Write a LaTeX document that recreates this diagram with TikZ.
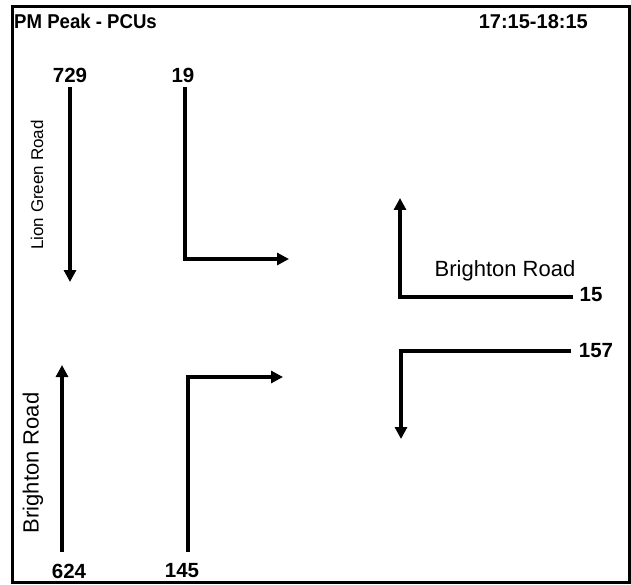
\documentclass[tikz,border=0pt]{standalone}
\usepackage{fontspec}
\setmainfont{Liberation Sans}
\usetikzlibrary{arrows.meta}
\begin{document}
\begin{tikzpicture}[x=1pt,y=-1pt,
  flow/.style={line width=4pt,-{Triangle[length=12pt,width=12pt]}},
  num/.style={font=\fontsize{20.5}{22}\selectfont\bfseries,inner sep=0pt},
  road/.style={font=\fontsize{22}{24}\selectfont,inner sep=0pt},
  smallroad/.style={font=\fontsize{17}{20}\selectfont,inner sep=0pt},
  title/.style={font=\fontsize{20}{22}\selectfont\bfseries,inner sep=0pt,anchor=base west}]
\useasboundingbox (0,0) rectangle (631,585);
\draw[line width=3pt] (12.5,7) rectangle (629,582.5);
\node[title] (t1) at (14,29) {\scalebox{0.93}[1]{PM Peak - PCUs}};
\node[title,anchor=base east] (t2) at (588,29) {17:15-18:15};
% top-left
\node[num] (n729) at (70,75) {729};
\coordinate (a1s) at (70,87);
\coordinate (a1e) at (70,282);
\draw[flow] (a1s) -- (a1e);
\node[smallroad,rotate=90] (lg) at (37,185) {Lion Green Road};
\node[num] (n19) at (183,75) {19};
\coordinate (a2s) at (185,87);
\coordinate (a2c) at (185,259);
\coordinate (a2e) at (289,259);
\draw[flow] (a2s) -- (a2c) -- (a2e);
% right
\node[road] (br1) at (505,271) {Brighton Road};
\node[num] (n15) at (591,295) {15};
\coordinate (a3s) at (573,297);
\coordinate (a3c) at (400,297);
\coordinate (a3e) at (400,198);
\draw[flow] (a3s) -- (a3c) -- (a3e);
\node[num] (n157) at (596,351) {157};
\coordinate (a4s) at (571,351);
\coordinate (a4c) at (401,351);
\coordinate (a4e) at (401,439);
\draw[flow] (a4s) -- (a4c) -- (a4e);
% bottom-left
\node[num] (n624) at (69,571) {624};
\coordinate (a5s) at (62,552);
\coordinate (a5e) at (62,365);
\draw[flow] (a5s) -- (a5e);
\node[road,rotate=90] (br2) at (33,463) {Brighton Road};
\node[num] (n145) at (182,571) {145};
\coordinate (a6s) at (188,552);
\coordinate (a6c) at (188,377);
\coordinate (a6e) at (283,377);
\draw[flow] (a6s) -- (a6c) -- (a6e);
\end{tikzpicture}
\end{document}
